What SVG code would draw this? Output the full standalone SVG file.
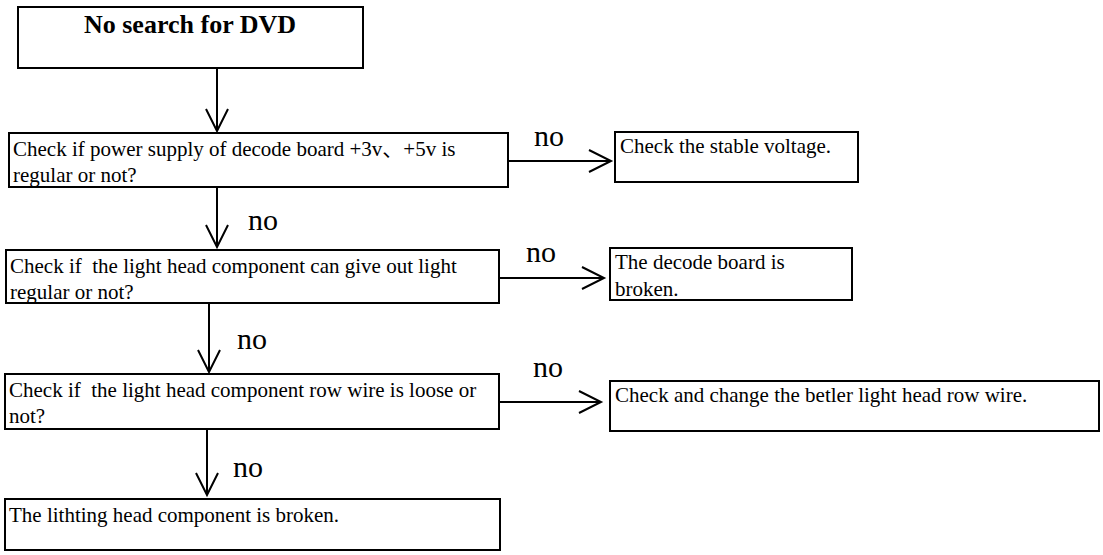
<svg xmlns="http://www.w3.org/2000/svg" width="1103" height="555" viewBox="0 0 1103 555">
<defs>
<style>
.box{fill:#fff;stroke:#000;stroke-width:2}
.t{font-family:"Liberation Serif","Times New Roman",Times,serif;font-size:21px;fill:#000}
.title{font-family:"Liberation Serif","Times New Roman",Times,serif;font-size:26px;font-weight:bold;fill:#000}
.lbl{font-family:"Liberation Serif","Times New Roman",Times,serif;font-size:30px;fill:#000}
.cjk{font-family:"Noto Sans CJK SC",sans-serif}
.c{fill:none;stroke:#000;stroke-width:2}
</style>
<marker id="ah" markerUnits="userSpaceOnUse" viewBox="-24 -13 26 26" refX="0" refY="0" markerWidth="26" markerHeight="26" orient="auto" overflow="visible">
<path d="M-22,-11 L0,0 L-22,11" fill="none" stroke="#000" stroke-width="2"/>
</marker>
</defs>
<rect width="1103" height="555" fill="#fff"/>
<g id="connectors">
<line class="c" x1="217" y1="68" x2="217" y2="131" marker-end="url(#ah)"/>
<line class="c" x1="508" y1="161" x2="611" y2="161" marker-end="url(#ah)"/>
<line class="c" x1="217" y1="187" x2="217" y2="247" marker-end="url(#ah)"/>
<line class="c" x1="499" y1="278" x2="604" y2="278" marker-end="url(#ah)"/>
<line class="c" x1="209" y1="304" x2="209" y2="372" marker-end="url(#ah)"/>
<line class="c" x1="499" y1="402" x2="601" y2="402" marker-end="url(#ah)"/>
<line class="c" x1="207" y1="429" x2="207" y2="495" marker-end="url(#ah)"/>
<text class="lbl" x="534" y="146">no</text>
<text class="lbl" x="248" y="230">no</text>
<text class="lbl" x="526" y="262">no</text>
<text class="lbl" x="237" y="349">no</text>
<text class="lbl" x="533" y="377">no</text>
<text class="lbl" x="233" y="477">no</text>
</g>
<g id="start">
<rect class="box" x="18" y="7" width="345" height="61"/>
<text class="title" x="190" y="33" text-anchor="middle">No search for DVD</text>
</g>
<g id="check-power">
<rect class="box" x="9" y="133" width="499" height="54"/>
<text class="t" x="13" y="156">Check if power supply of decode board +3v<tspan class="cjk">、</tspan>+5v is</text>
<text class="t" x="13" y="182">regular or not?</text>
</g>
<g id="stable-voltage">
<rect class="box" x="615" y="132" width="243" height="50"/>
<text class="t" x="620" y="153">Check the stable voltage.</text>
</g>
<g id="check-light">
<rect class="box" x="6" y="250" width="493" height="53"/>
<text class="t" x="10" y="273" xml:space="preserve">Check if  the light head component can give out light</text>
<text class="t" x="10" y="299">regular or not?</text>
</g>
<g id="decode-broken">
<rect class="box" x="610" y="248" width="242" height="52"/>
<text class="t" x="615" y="269">The decode board is</text>
<text class="t" x="615" y="296">broken.</text>
</g>
<g id="check-wire">
<rect class="box" x="5" y="374" width="494" height="55"/>
<text class="t" x="9" y="397" xml:space="preserve">Check if  the light head component row wire is loose or</text>
<text class="t" x="9" y="423">not?</text>
</g>
<g id="change-wire">
<rect class="box" x="610" y="381" width="489" height="50"/>
<text class="t" x="615" y="402">Check and change the betler light head row wire.</text>
</g>
<g id="head-broken">
<rect class="box" x="5" y="499" width="495" height="51"/>
<text class="t" x="9" y="522">The lithting head component is broken.</text>
</g>
</svg>
